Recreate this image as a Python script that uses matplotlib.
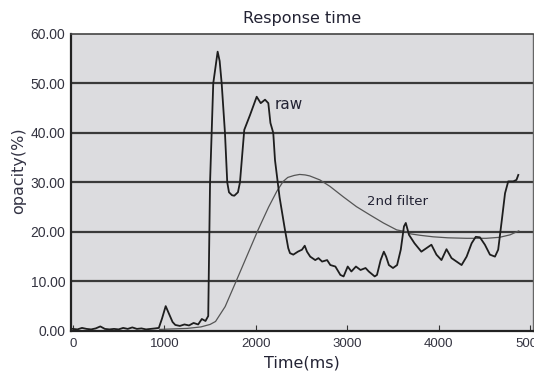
import numpy as np
import matplotlib
matplotlib.use("Agg")
import matplotlib.pyplot as plt

# raw opacity trace (ms, %)
raw_t = [0, 50, 100, 150, 200, 250, 300, 350, 400, 450, 500, 550, 600, 650, 700,
         750, 800, 850, 900, 940, 975, 1015, 1050, 1090, 1120, 1170, 1220, 1270,
         1320, 1370, 1410, 1450, 1480, 1500, 1535, 1583, 1605, 1627, 1663, 1688,
         1707, 1740, 1765, 1805, 1827, 1874, 1937, 2010, 2054, 2101, 2137, 2160,
         2191, 2210, 2260, 2319, 2355, 2374, 2410, 2460, 2505, 2535, 2560, 2595,
         2650, 2685, 2725, 2780, 2815, 2870, 2925, 2960, 3005, 3045, 3095, 3145,
         3200, 3235, 3300, 3325, 3365, 3400, 3425, 3455, 3500, 3545, 3585, 3620,
         3640, 3675, 3735, 3810, 3865, 3920, 3975, 4030, 4085, 4140, 4195, 4250,
         4305, 4360, 4405, 4450, 4505, 4560, 4615, 4650, 4690, 4725, 4760, 4815,
         4850, 4870]
raw_v = [0.4, 0.3, 0.6, 0.4, 0.3, 0.5, 0.9, 0.4, 0.3, 0.4, 0.3, 0.6, 0.4, 0.7, 0.4,
         0.5, 0.3, 0.4, 0.5, 0.6, 2.5, 5.0, 3.5, 1.8, 1.2, 1.0, 1.3, 1.1,
         1.6, 1.3, 2.4, 2.0, 3.0, 30.0, 50.0, 56.4, 54.5, 50.0, 40.0, 30.0,
         28.0, 27.4, 27.3, 28.0, 30.0, 40.6, 43.6, 47.3, 46.0, 46.7, 46.0, 42.0,
         40.0, 34.5, 27.0, 20.4, 16.7, 15.7, 15.4, 16.0, 16.4, 17.2, 16.0, 15.0,
         14.3, 14.7, 14.0, 14.3, 13.3, 13.0, 11.3, 11.0, 13.0, 12.0, 13.0, 12.3,
         12.7, 12.0, 11.0, 11.3, 14.3, 16.0, 15.0, 13.3, 12.7, 13.3, 16.4, 21.1,
         21.8, 19.4, 17.7, 16.0, 16.7, 17.4, 15.4, 14.3, 16.5, 14.7, 14.0, 13.3,
         15.0, 17.7, 19.0, 18.9, 17.4, 15.4, 15.0, 16.4, 22.4, 27.8, 30.2, 30.2,
         30.5, 31.5]

# second-order filtered trace
filt_t = [950, 1100, 1250, 1400, 1500, 1560, 1665, 1775, 1900, 2025, 2140, 2230,
          2300, 2350, 2420, 2480, 2540, 2590, 2700, 2810, 2955, 3100, 3250, 3395,
          3540, 3650, 3690, 3800, 3940, 4100, 4300, 4520, 4665, 4780, 4875]
filt_v = [0.3, 0.4, 0.5, 0.8, 1.3, 1.9, 4.9, 9.6, 15.0, 20.4, 25.0, 28.2,
          30.2, 31.0, 31.4, 31.6, 31.5, 31.3, 30.5, 29.2, 27.1, 25.1, 23.4, 21.8,
          20.4, 20.0, 19.6, 19.3, 19.0, 18.8, 18.7, 18.7, 18.9, 19.4, 20.2]

yticks = [0, 10, 20, 30, 40, 50, 60]
xticks = [0, 1000, 2000, 3000, 4000, 5000]

fig = plt.figure(figsize=(5.34, 3.76), dpi=100)
ax = fig.add_axes([0.133, 0.12, 0.865, 0.79])
ax.set_facecolor('#dcdcdf')

for y in yticks[1:-1]:
    ax.axhline(y, color='#3a3a3a', lw=1.6, zorder=1)

ax.plot(filt_t, filt_v, color='#555555', lw=0.9, zorder=2)
ax.plot(raw_t, raw_v, color='#1e1e1e', lw=1.3, zorder=3)

ax.text(2210, 45.7, 'raw', fontsize=11, color='#222233', va='center')
ax.text(3220, 26.1, '2nd filter', fontsize=9.5, color='#222233', va='center')

ax.set_xlim(-20, 5030)
ax.set_ylim(0, 60)
ax.set_xticks(xticks)
ax.set_yticks(yticks)
ax.set_yticklabels(['%.2f' % v for v in yticks], family='Liberation Sans',
                   fontsize=10, color='#333340')
ax.set_xticklabels([str(v) for v in xticks], family='Liberation Sans',
                   fontsize=9.5, color='#333340')
ax.tick_params(axis='x', direction='in', length=4, color='#333', pad=5)
ax.tick_params(axis='y', length=0, pad=4)

for side in ['left', 'bottom']:
    ax.spines[side].set_color('#222')
    ax.spines[side].set_linewidth(1.6)
ax.spines['top'].set_color('#444')
ax.spines['top'].set_linewidth(1.2)
ax.spines['right'].set_color('#666')
ax.spines['right'].set_linewidth(1.0)

ax.set_title('Response time', fontsize=11.5, color='#222233', pad=8)
ax.set_xlabel('Time(ms)', fontsize=11.5, color='#222233', labelpad=4)
ax.set_ylabel('opacity(%)', fontsize=11.5, color='#333344', labelpad=6)
ax.yaxis.set_label_coords(-0.098, 0.54)

fig.savefig('out.png', dpi=100)
